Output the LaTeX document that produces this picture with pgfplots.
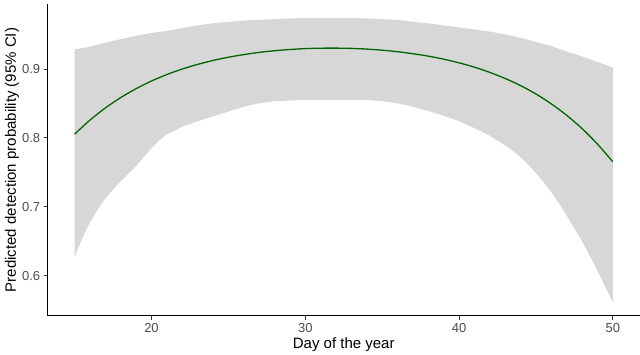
\documentclass[border=0pt]{standalone}
\usepackage{pgfplots}
\pgfplotsset{compat=1.18}
\usepackage{fontspec}
\setmainfont{Liberation Sans}
\definecolor{ribbon}{HTML}{D7D7D7}
\definecolor{fit}{HTML}{006400}
\begin{document}
\begin{tikzpicture}
\useasboundingbox (-47.7pt,-39pt) rectangle (592.3pt,316pt);
\begin{axis}[
  scale only axis,
  width=592pt, height=312pt,
  xmin=13.25, xmax=51.75, ymin=0.5415, ymax=0.994,
  axis x line*=bottom, axis y line*=left,
  axis line style={-, line width=1pt, black},
  xtick={20,30,40,50},
  ytick={0.6,0.7,0.8,0.9},
  yticklabels={0.6,0.7,0.8,0.9},
  xticklabels={20,30,40,50},
  tick align=outside,
  major tick length=4pt,
  tick style={black!80, line width=0.6pt},
  ticklabel style={font=\fontsize{13}{15}\selectfont, text=black!70},
  /pgf/number format/assume math mode=true,
  xlabel={Day of the year},
  ylabel={Predicted detection probability (95\% CI)},
  every axis x label/.style={at={(axis description cs:0.5,-0.093)}, anchor=center, font=\fontsize{15}{18}\selectfont},
  every axis y label/.style={at={(axis description cs:-0.0603,0.5)}, rotate=90, anchor=center, font=\fontsize{15}{18}\selectfont},
  clip=false,
]
\addplot[fill=ribbon, draw=none] coordinates {
(15,0.928) (16,0.932) (17,0.938) (18,0.943) (19,0.948) (20,0.952) (21,0.955) (22,0.959) (23,0.963) (24,0.966) (25,0.968) (26,0.970) (27,0.971) (28,0.972) (29,0.973) (30,0.974) (31,0.974) (32,0.974) (33,0.974) (34,0.973) (35,0.972) (36,0.971) (37,0.968) (38,0.966) (39,0.963) (40,0.960) (41,0.957) (42,0.954) (43,0.950) (44,0.945) (45,0.939) (46,0.933) (47,0.925) (48,0.918) (49,0.910) (50,0.902)
(50,0.562) (49.75,0.573) (49.5,0.584) (49.25,0.596) (49,0.607) (48.5,0.629) (48,0.650) (47.5,0.669) (47,0.687) (46.5,0.705) (46,0.721) (45.5,0.736) (45,0.749) (44.5,0.761) (44,0.772) (43.5,0.781) (43,0.789) (42,0.803) (41,0.814) (40,0.824) (39,0.832) (38,0.839) (37,0.845) (36,0.850) (35,0.853) (34,0.855) (33,0.855) (32,0.855) (31,0.855) (30,0.855) (29,0.854) (28,0.853) (27,0.850) (26,0.845) (25,0.838) (24,0.831) (23,0.824) (22,0.816) (21,0.805) (20.5,0.796) (20,0.785) (19.5,0.772) (19,0.759) (18.5,0.748) (18,0.737) (17.5,0.725) (17,0.712) (16.5,0.696) (16,0.677) (15.75,0.666) (15.5,0.654) (15.25,0.641) (15,0.627)
} -- cycle;
\addplot[fit, line width=1.3pt, smooth] coordinates {
(15,0.8052) (16,0.8256) (17,0.8432) (18,0.8583) (19,0.8712) (20,0.8823) (21,0.8917) (22,0.8997) (23,0.9064) (24,0.9121) (25,0.9168) (26,0.9206) (27,0.9238) (28,0.9262) (29,0.9280) (30,0.9293) (31,0.9299) (32,0.9300) (33,0.9296) (34,0.9286) (35,0.9270) (36,0.9248) (37,0.9219) (38,0.9184) (39,0.9140) (40,0.9087) (41,0.9024) (42,0.8948) (43,0.8860) (44,0.8757) (45,0.8635) (46,0.8492) (47,0.8326) (48,0.8133) (49,0.7909) (50,0.7652)
};
\end{axis}
\end{tikzpicture}
\end{document}
